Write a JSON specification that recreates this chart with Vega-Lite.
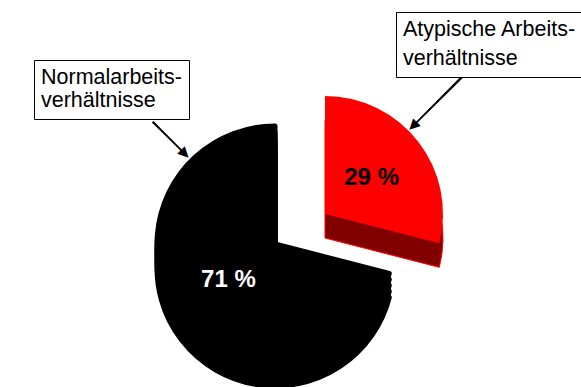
{
  "$schema": "https://vega.github.io/schema/vega-lite/v6.json",
  "width": 550,
  "height": 262,
  "autosize": {"type": "none"},
  "padding": {"left": 0, "top": 113, "right": 31, "bottom": 12},
  "background": "white",
  "config": {"view": {"stroke": null}},
  "data": {
    "values": [
      {"category": "Atypische Arbeitsverhältnisse", "value": 29},
      {"category": "Normalarbeitsverhältnisse", "value": 71}
    ]
  },
  "transform": [{"stack": "value", "groupby": [], "as": ["t0", "t1"]}],
  "layer": [
    {
      "transform": [{"filter": "datum.category === 'Normalarbeitsverhältnisse'"}],
      "mark": {"type": "arc", "radius": 118, "yOffset": 24, "fill": "#000000", "stroke": "#000000", "strokeWidth": 5, "strokeJoin": "round"},
      "encoding": {
        "theta": {"field": "t0", "type": "quantitative", "scale": {"domain": [0, 100]}},
        "theta2": {"field": "t1"}
      }
    },
    {
      "transform": [{"filter": "datum.category === 'Normalarbeitsverhältnisse'"}],
      "mark": {"type": "arc", "radius": 118, "yOffset": 18, "fill": "#000000", "stroke": "#000000", "strokeWidth": 5, "strokeJoin": "round"},
      "encoding": {
        "theta": {"field": "t0", "type": "quantitative", "scale": {"domain": [0, 100]}},
        "theta2": {"field": "t1"}
      }
    },
    {
      "transform": [{"filter": "datum.category === 'Normalarbeitsverhältnisse'"}],
      "mark": {"type": "arc", "radius": 118, "yOffset": 12, "fill": "#000000", "stroke": "#000000", "strokeWidth": 5, "strokeJoin": "round"},
      "encoding": {
        "theta": {"field": "t0", "type": "quantitative", "scale": {"domain": [0, 100]}},
        "theta2": {"field": "t1"}
      }
    },
    {
      "transform": [{"filter": "datum.category === 'Normalarbeitsverhältnisse'"}],
      "mark": {"type": "arc", "radius": 118, "yOffset": 6, "fill": "#000000", "stroke": "#000000", "strokeWidth": 5, "strokeJoin": "round"},
      "encoding": {
        "theta": {"field": "t0", "type": "quantitative", "scale": {"domain": [0, 100]}},
        "theta2": {"field": "t1"}
      }
    },
    {
      "transform": [{"filter": "datum.category === 'Normalarbeitsverhältnisse'"}],
      "mark": {"type": "arc", "radius": 118, "stroke": "#000000", "strokeWidth": 5, "strokeJoin": "round"},
      "encoding": {
        "theta": {"field": "t0", "type": "quantitative", "scale": {"domain": [0, 100]}},
        "theta2": {"field": "t1"},
        "color": {
          "field": "category",
          "type": "nominal",
          "scale": {"domain": ["Normalarbeitsverhältnisse"], "range": ["#000000"]},
          "legend": {
            "orient": "none",
            "legendX": 34,
            "legendY": -53,
            "title": null,
            "symbolSize": 0,
            "symbolOpacity": 0,
            "symbolStrokeWidth": 0,
            "labelOffset": -21.5,
            "labelAlign": "left",
            "labelFont": "Liberation Sans",
            "labelFontSize": 21.5,
            "labelColor": "#000000",
            "labelLimit": 400,
            "labelExpr": "split(replace(datum.label, 'rbeits', 'rbeits-|'), '|')",
            "strokeColor": "#000000",
            "fillColor": "#ffffff",
            "padding": 7,
            "encode": {"labels": {"update": {"lineHeight": {"value": 29}}}}
          }
        }
      }
    },
    {
      "transform": [{"filter": "datum.category === 'Atypische Arbeitsverhältnisse'"}],
      "mark": {"type": "arc", "radius": 118, "xOffset": 50, "yOffset": -6, "fill": "#800000", "stroke": "#ff0000", "strokeWidth": 1},
      "encoding": {
        "theta": {"field": "t0", "type": "quantitative", "scale": {"domain": [0, 100]}},
        "theta2": {"field": "t1"}
      }
    },
    {
      "transform": [{"filter": "datum.category === 'Atypische Arbeitsverhältnisse'"}],
      "mark": {"type": "arc", "radius": 118, "xOffset": 50, "yOffset": -30},
      "encoding": {
        "theta": {"field": "t0", "type": "quantitative", "scale": {"domain": [0, 100]}},
        "theta2": {"field": "t1"},
        "color": {
          "field": "category",
          "type": "nominal",
          "scale": {"domain": ["Atypische Arbeitsverhältnisse"], "range": ["#ff0000"]},
          "legend": {
            "orient": "none",
            "legendX": 396,
            "legendY": -101,
            "title": null,
            "symbolSize": 0,
            "symbolOpacity": 0,
            "symbolStrokeWidth": 0,
            "labelOffset": -21.5,
            "labelAlign": "left",
            "labelFont": "Liberation Sans",
            "labelFontSize": 21.5,
            "labelColor": "#000000",
            "labelLimit": 400,
            "labelExpr": "split(replace(datum.label, 'rbeits', 'rbeits-|'), '|')",
            "strokeColor": "#000000",
            "fillColor": "#ffffff",
            "padding": 7,
            "encode": {"labels": {"update": {"lineHeight": {"value": 29}}}}
          }
        }
      }
    },
    {
      "mark": {"type": "text", "radius": 59, "font": "Liberation Sans", "fontWeight": "bold", "fontSize": 24, "fill": "#ffffff", "align": "center", "baseline": "middle"},
      "encoding": {
        "theta": {"field": "value", "type": "quantitative", "stack": true, "scale": {"domain": [0, 100]}},
        "order": {"field": "t0"},
        "detail": {"field": "category"},
        "text": {"value": {"expr": "datum.value + ' %'"}},
        "opacity": {"condition": {"test": "datum.category === 'Normalarbeitsverhältnisse'", "value": 1}, "value": 0}
      }
    },
    {
      "mark": {"type": "text", "radius": 59, "xOffset": 50, "yOffset": -30, "font": "Liberation Sans", "fontWeight": "bold", "fontSize": 24, "fill": "#000000", "align": "center", "baseline": "middle"},
      "encoding": {
        "theta": {"field": "value", "type": "quantitative", "stack": true, "scale": {"domain": [0, 100]}},
        "order": {"field": "t0"},
        "detail": {"field": "category"},
        "text": {"value": {"expr": "datum.value + ' %'"}},
        "opacity": {"condition": {"test": "datum.category === 'Atypische Arbeitsverhältnisse'", "value": 1}, "value": 0}
      }
    },
    {
      "transform": [{"filter": "datum.category === 'Normalarbeitsverhältnisse'"}],
      "mark": {"type": "arc", "fill": "#000000"},
      "encoding": {
        "theta": {"value": 5.4913},
        "theta2": {"value": 5.5043},
        "radius": {"value": 173},
        "radius2": {"value": 127}
      }
    },
    {
      "transform": [{"filter": "datum.category === 'Normalarbeitsverhältnisse'"}],
      "mark": {"type": "text", "text": "▼", "font": "DejaVu Sans", "fontSize": 14, "angle": 315, "align": "center", "baseline": "middle", "fill": "#000000"},
      "encoding": {
        "theta": {"value": 5.4978},
        "radius": {"value": 128}
      }
    },
    {
      "transform": [{"filter": "datum.category === 'Atypische Arbeitsverhältnisse'"}],
      "mark": {"type": "arc", "fill": "#000000", "xOffset": 50, "yOffset": -30},
      "encoding": {
        "theta": {"value": 0.7789},
        "theta2": {"value": 0.7919},
        "radius": {"value": 194},
        "radius2": {"value": 126}
      }
    },
    {
      "transform": [{"filter": "datum.category === 'Atypische Arbeitsverhältnisse'"}],
      "mark": {"type": "text", "text": "▼", "font": "DejaVu Sans", "fontSize": 14, "angle": 45, "align": "center", "baseline": "middle", "fill": "#000000", "xOffset": 50, "yOffset": -30},
      "encoding": {
        "theta": {"value": 0.7854},
        "radius": {"value": 125}
      }
    }
  ],
  "resolve": {"scale": {"color": "independent"}}
}
